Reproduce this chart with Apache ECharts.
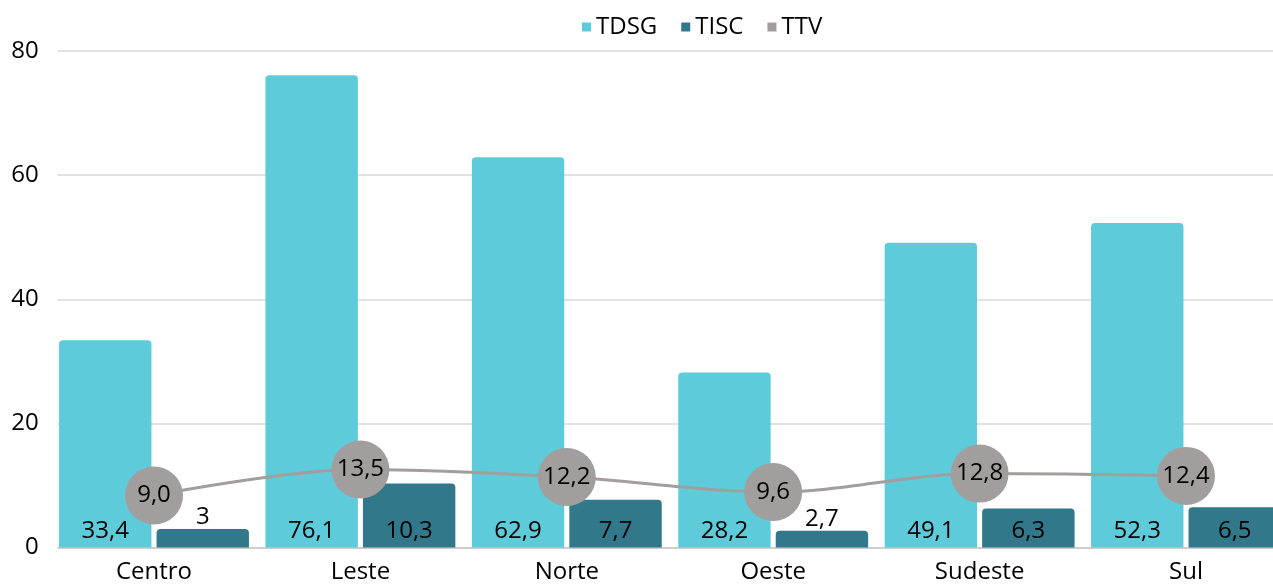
<!DOCTYPE html>
<html>
<head>
<meta charset="utf-8">
<script src="https://cdn.jsdelivr.net/npm/echarts@6/dist/echarts.min.js"></script>
<style>
  html, body { margin: 0; padding: 0; background: #fff; }
  #chart { width: 1273px; height: 584px; }
</style>
</head>
<body>
<div id="chart"></div>
<script>
// Regions and indicator values
const regions = ['Centro', 'Leste', 'Norte', 'Oeste', 'Sudeste', 'Sul'];
const tdsg = [33.4, 76.1, 62.9, 28.2, 49.1, 52.3];
const tisc = [3, 10.3, 7.7, 2.7, 6.3, 6.5];
const ttv = [9.0, 13.5, 12.2, 9.6, 12.8, 12.4];
const yTicks = [0, 20, 40, 60, 80];

const FONT = 'Open Sans';
const comma = (v, digits) => (digits == null ? String(v) : v.toFixed(digits)).replace('.', ',');

// Short TISC bars carry their label above the bar
const tiscData = tisc.map(v => v < 5
  ? { value: v, label: { position: 'top', distance: 0 } }
  : v);

const chart = echarts.init(document.getElementById('chart'), null, { renderer: 'canvas' });
chart.setOption({
  animation: false,
  textStyle: { fontFamily: FONT },
  legend: {
    top: 10,
    left: 577,
    itemWidth: 9,
    itemHeight: 9,
    itemGap: 24,
    icon: 'rect',
    textStyle: { fontFamily: FONT, fontSize: 24, color: '#000' },
    data: ['TDSG', 'TISC', 'TTV']
  },
  // the last category runs past the right edge of the canvas
  grid: {
    left: 50.8, top: 51, width: 1238.4, height: 496.5,
    containLabel: false, outerBoundsMode: 'none'
  },
  // trims the gridlines so they begin right at the first bar
  graphic: {
    z: 50,
    elements: [{
      type: 'rect',
      z: 100,
      shape: { x: 50, y: 45, width: 7.5, height: 505 },
      style: { fill: '#fff' }
    }]
  },
  xAxis: {
    type: 'category',
    data: regions,
    axisTick: { show: false },
    axisLine: { lineStyle: { color: '#c8c8c8', width: 1.5 } },
    axisLabel: { color: '#000', fontSize: 24, fontFamily: FONT, margin: 13 }
  },
  yAxis: [
    {
      type: 'value',
      min: yTicks[0],
      max: yTicks[yTicks.length - 1],
      interval: yTicks[1] - yTicks[0],
      axisLine: { show: false },
      axisTick: { show: false },
      splitLine: { lineStyle: { color: '#d9d9d9', width: 1.5 } },
      axisLabel: { color: '#000', fontSize: 24, fontFamily: FONT, margin: 12 }
    },
    {
      type: 'value',
      min: 0,
      max: 86,
      show: false,
      splitLine: { show: false }
    }
  ],
  series: [
    {
      name: 'TDSG',
      type: 'bar',
      data: tdsg,
      barGap: '5.5%',
      barCategoryGap: '8%',
      itemStyle: { color: '#5ECBDB', borderRadius: [4, 4, 0, 0] },
      label: {
        show: true,
        position: 'insideBottom',
        distance: 4,
        color: '#000',
        fontSize: 24,
        fontFamily: FONT,
        formatter: p => comma(p.value, 1)
      }
    },
    {
      name: 'TISC',
      type: 'bar',
      data: tiscData,
      itemStyle: { color: '#31788A', borderRadius: [4, 4, 0, 0] },
      label: {
        show: true,
        position: 'insideBottom',
        distance: 4,
        color: '#000',
        fontSize: 24,
        fontFamily: FONT,
        formatter: p => comma(p.value)
      }
    },
    {
      name: 'TTV',
      type: 'line',
      yAxisIndex: 1,
      data: ttv,
      smooth: 0.35,
      z: 5,
      symbol: 'circle',
      symbolSize: 58,
      lineStyle: { color: '#A39E9E', width: 3 },
      itemStyle: { color: '#A39E9E' },
      label: {
        show: true,
        position: 'inside',
        color: '#000',
        fontSize: 24,
        fontFamily: FONT,
        formatter: p => comma(p.value, 1)
      }
    }
  ]
});
</script>
</body>
</html>
